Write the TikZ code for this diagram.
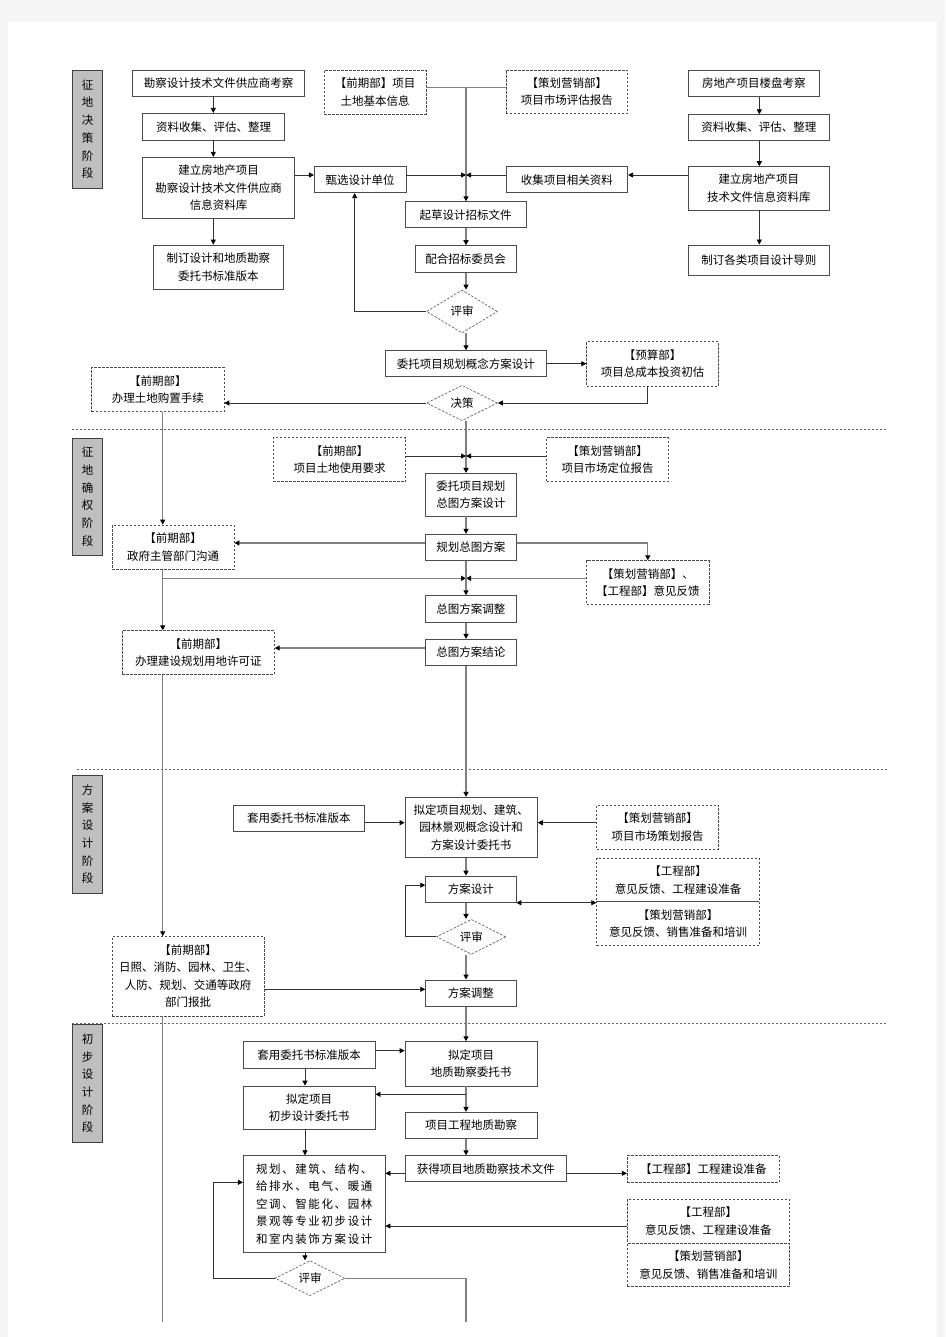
\documentclass[tikz,border=0pt]{standalone}
\usepackage{fontspec}
\setmainfont{Noto Sans CJK SC}
\newfontfamily\widefont{Noto Sans CJK SC}[LetterSpace=14]
\usepackage{tikz}
\usetikzlibrary{calc}
\usetikzlibrary{arrows.meta}
\usetikzlibrary{shapes.geometric}
\tikzset{box/.style={draw=black!70, line width=0.8pt, fill=white, inner sep=0pt, align=center, font=\fontsize{11.5}{17.5}\selectfont}}
\tikzset{dbox/.style={box, dashed, dash pattern=on 2.5pt off 1.5pt}}
\tikzset{sz/.style 2 args={minimum width=#1pt, minimum height=#2pt}}
\tikzset{phase/.style={draw=black!75, line width=0.8pt, fill=black!25, inner sep=0pt, minimum width=29.6pt, align=center, font=\fontsize{11.5}{17.7}\selectfont}}
\tikzset{choice/.style={diamond, draw=black!60, line width=0.7pt, dashed, dash pattern=on 2.5pt off 1.5pt, fill=white, inner sep=0pt, font=\fontsize{11.5}{14}\selectfont}}

\begin{document}
\begin{tikzpicture}[x=1pt, y=-1pt]
\tikzstyle{myarrow} = [-{Triangle[length=5pt, width=5pt, black]}]
\tikzstyle{gray} = [draw=black!50, line width=1.3pt]
\tikzstyle{dark} = [draw=black!80, line width=0.8pt]
\useasboundingbox (0,0) rectangle (945,1337);
\fill[black!4] (0,0) rectangle (945,1337);
\fill[white] (8,22) rectangle (937,1337);

% phase labels
\node[phase, minimum height=118.3pt] (p1) at (87.5,129.2) {征\\地\\决\\策\\阶\\段};
\node[phase, minimum height=116.7pt] (p2) at (87.5,496.7) {征\\地\\确\\权\\阶\\段};
\node[phase, minimum height=118.3pt] (p3) at (87.5,834.2) {方\\案\\设\\计\\阶\\段};
\node[phase, minimum height=118.3pt] (p4) at (87.5,1083.2) {初\\步\\设\\计\\阶\\段};

% phase dividers
\draw[black!60, dashed, dash pattern=on 2.5pt off 1.5pt] (71.7,429) -- (886.7,429);
\draw[black!60, dashed, dash pattern=on 2.5pt off 1.5pt] (76.7,769.3) -- (886.7,769.3);
\draw[black!60, dashed, dash pattern=on 2.5pt off 1.5pt] (71.7,1023.3) -- (886.7,1023.3);

% columns and junctions
\coordinate (colA) at (213.3,0);
\coordinate (colC) at (759.3,0);
\coordinate (colP) at (305,0);
\coordinate (spine) at (466,0);
\coordinate (spineL) at (162.7,0);
\coordinate (t0) at (466,87.3);
\coordinate (j1) at (466,175);
\coordinate (j2) at (466,456);
\coordinate (j3) at (466,578.3);
\coordinate (k1) at (466,543);
\coordinate (k2) at (466,648);
\coordinate (k3) at (466,822.7);
\coordinate (k5) at (466,989.3);
\coordinate (k6) at (466,1050.7);
\coordinate (k7) at (466,1094.3);
\coordinate (k8) at (466,1173.3);
\coordinate (k9) at (466,1226);
\coordinate (k10) at (466,1182.3);
\coordinate (bottom) at (466,1321.7);

% phase 1
\node[box, sz={171.6}{26}] (a1) at (218.5,83) {勘察设计技术文件供应商考察};
\node[box, sz={141.6}{26.7}] (a2) at (213.5,126.7) {资料收集、评估、整理};
\node[box, sz={151.6}{61}] (a3) at (218.5,187.8) {建立房地产项目\\勘察设计技术文件供应商\\信息资料库};
\node[box, sz={130}{44.3}] (a4) at (218.3,267.2) {制订设计和地质勘察\\委托书标准版本};
\node[box, sz={91.7}{26}] (b1) at (360.2,179.7) {甄选设计单位};
\node[dbox, sz={101.7}{44}] (d1) at (375.2,92) {【前期部】项目\\土地基本信息};
\node[dbox, sz={121.7}{43.3}] (d2) at (566.8,91.7) {【策划营销部】\\项目市场评估报告};
\node[box, sz={131}{26.7}] (c1) at (753.8,83.3) {房地产项目楼盘考察};
\node[box, sz={141}{25.5}] (c2) at (758.8,127.5) {资料收集、评估、整理};
\node[box, sz={141}{43.3}] (c3) at (758.8,188.3) {建立房地产项目\\技术文件信息资料库};
\node[box, sz={141}{30.7}] (c4) at (758.8,260.3) {制订各类项目设计导则};
\node[box, sz={121.7}{26}] (b2) at (566.8,179.7) {收集项目相关资料};
\node[box, sz={121}{26}] (m1) at (465.5,214.7) {起草设计招标文件};
\node[box, sz={100.7}{26.7}] (m2) at (465.7,259) {配合招标委员会};
\node[choice, minimum width=71pt, minimum height=43pt] (r1) at (462,311.5) {评审};
\node[box, sz={161.7}{26}] (m3) at (465.8,363.7) {委托项目规划概念方案设计};
\node[dbox, sz={131.6}{44.3}] (d3) at (652.5,363.8) {【预算部】\\项目总成本投资初估};
\node[choice, minimum width=71pt, minimum height=35.4pt] (r2) at (462,403) {决策};
\node[dbox, sz={132.3}{44.4}] (d4) at (157.8,389.5) {【前期部】\\办理土地购置手续};

% phase 2
\node[dbox, sz={132.4}{44}] (d5) at (339.5,459.7) {【前期部】\\项目土地使用要求};
\node[dbox, sz={121.6}{44}] (d6) at (607.5,459.7) {【策划营销部】\\项目市场定位报告};
\node[box, sz={91.7}{42.7}] (m4) at (470.8,494.7) {委托项目规划\\总图方案设计};
\node[dbox, sz={121.7}{44.3}] (d7) at (173.2,547.2) {【前期部】\\政府主管部门沟通};
\node[box, sz={91.7}{26.4}] (m5) at (470.8,547.5) {规划总图方案};
\node[dbox, sz={122.3}{43.6}] (d8) at (647.8,582.5) {【策划营销部】、\\【工程部】意见反馈};
\node[box, sz={91.7}{26.6}] (m6) at (470.8,609) {总图方案调整};
\node[box, sz={91.7}{26.4}] (m7) at (470.8,652.5) {总图方案结论};
\node[dbox, sz={152}{43.6}] (d9) at (198.3,652.5) {【前期部】\\办理建设规划用地许可证};

% phase 3
\node[box, sz={131}{26.7}] (s1) at (298.8,818.3) {套用委托书标准版本};
\node[box, sz={132.3}{60.4}] (m8) at (471.2,827.5) {拟定项目规划、建筑、\\园林景观概念设计和\\方案设计委托书};
\node[dbox, sz={121.6}{44.3}] (d10) at (657.5,827.2) {【策划营销部】\\项目市场策划报告};
\node[box, sz={90.3}{26.3}] (m9) at (470.8,889.2) {方案设计};
\node[dbox, sz={162.6}{43.4}] (d11a) at (678,880) {【工程部】\\意见反馈、工程建设准备};
\node[dbox, sz={162.6}{44}] (d11b) at (678,923.7) {【策划营销部】\\意见反馈、销售准备和培训};
\node[choice, minimum width=69.3pt, minimum height=35pt] (r3) at (471.3,936.8) {评审};
\node[dbox, sz={151.7}{79.3}] (d12) at (188.2,976.3) {【前期部】\\日照、消防、园林、卫生、\\人防、规划、交通等政府\\部门报批};
\node[box, sz={90.3}{26.7}] (m10) at (470.8,993.3) {方案调整};

% phase 4
\node[box, sz={131.7}{26.6}] (s2) at (309.2,1055) {套用委托书标准版本};
\node[box, sz={132.3}{44.3}] (m11) at (471.2,1063.8) {拟定项目\\地质勘察委托书};
\node[box, sz={131.7}{43}] (s3) at (309.2,1107.5) {拟定项目\\初步设计委托书};
\node[box, sz={132.3}{26}] (m12) at (471.2,1125.3) {项目工程地质勘察};
\node[box, sz={161.7}{26}] (m13) at (485.8,1168.7) {获得项目地质勘察技术文件};
\node[box, sz={141.7}{96.6}, align=left, font=\widefont\fontsize{11.5}{17.5}\selectfont] (s4) at (314.2,1204) {规划、建筑、结构、\\给排水、电气、暖通\\空调、智能化、园林\\景观等专业初步设计\\和室内装饰方案设计};
\node[dbox, sz={152}{26.6}] (d13) at (703.3,1169) {【工程部】工程建设准备};
\node[dbox, sz={162}{44}] (d14a) at (708.3,1221.3) {【工程部】\\意见反馈、工程建设准备};
\node[dbox, sz={162}{43.4}] (d14b) at (708.3,1265) {【策划营销部】\\意见反馈、销售准备和培训};
\node[choice, minimum width=70pt, minimum height=35pt] (r4) at (310,1278.2) {评审};

% connectors, phase 1
\draw[dark, myarrow] (a1.south -| colA) -- (a2.north -| colA);
\draw[dark, myarrow] (a2.south -| colA) -- (a3.north -| colA);
\draw[dark, myarrow] (a3.south -| colA) -- (a4.north -| colA);
\draw[dark, myarrow] (c1.south -| colC) -- (c2.north -| colC);
\draw[dark, myarrow] (c2.south -| colC) -- (c3.north -| colC);
\draw[dark, myarrow] (c3.south -| colC) -- (c4.north -| colC);
\draw[dark, myarrow] (a3.east |- j1) -- (b1.west |- j1);
\draw[dark, myarrow] (c3.west |- j1) -- (b2.east |- j1);
\draw[gray] (d1.east |- t0) -- (d2.west |- t0);
\draw[gray, myarrow] (t0) -- (m1.north -| spine);
\draw[dark, myarrow] (b1.east |- j1) -- (j1);
\draw[dark, myarrow] (b2.west |- j1) -- (j1);
\draw[gray, myarrow] (m1.south -| spine) -- (m2.north -| spine);
\draw[gray, myarrow] (m2.south -| spine) -- (r1.north -| spine);
\draw[gray, myarrow] (r1.south -| spine) -- (m3.north -| spine);
\draw[dark, myarrow] (r1.west) -| ([xshift=-5.5pt]b1.south);
\draw[dark, myarrow] (m3.east) -- (m3.east -| d3.west);
\draw[dark, myarrow] ([xshift=-5pt]d3.south) |- (r2.east);
\draw[dark, myarrow] (r2.west) -- (r2.west -| d4.east);

% connectors, phase 2
\draw[gray, myarrow] (r2.south -| spine) -- (m4.north -| spine);
\draw[dark, myarrow] (d5.east |- j2) -- (j2);
\draw[dark, myarrow] (d6.west |- j2) -- (j2);
\draw[gray, myarrow] (d4.south -| spineL) -- (d7.north -| spineL);
\draw[gray, myarrow] (m4.south -| spine) -- (m5.north -| spine);
\draw[gray, myarrow] (m5.west |- k1) -- (k1 -| d7.east);
\draw[gray, myarrow] (m5.east |- k1) -| (d8.north);
\draw[gray, myarrow] (d7.south -| spineL) -- (d9.north -| spineL);
\draw[gray, myarrow] (spineL |- j3) -- (j3);
\draw[gray, myarrow] (d8.west |- j3) -- (j3);
\draw[gray, myarrow] (m5.south -| spine) -- (m6.north -| spine);
\draw[gray, myarrow] (m6.south -| spine) -- (m7.north -| spine);
\draw[gray, myarrow] (m7.west |- k2) -- (k2 -| d9.east);
\draw[gray, myarrow] (m7.south -| spine) -- (m8.north -| spine);

% connectors, phase 3
\draw[gray, myarrow] (d9.south -| spineL) -- (d12.north -| spineL);
\draw[dark, myarrow] (s1.east |- k3) -- (k3 -| m8.west);
\draw[dark, myarrow] (d10.west |- k3) -- (k3 -| m8.east);
\draw[gray, myarrow] (m8.south -| spine) -- (m9.north -| spine);
\draw[dark, {Triangle[length=5pt, width=5pt, black]}-{Triangle[length=5pt, width=5pt, black]}] (m9.south east) -- (m9.south east -| d11a.west);
\draw[gray, myarrow] (m9.south -| spine) -- (r3.north -| spine);
\draw[dark, myarrow] (r3.west) -| ([xshift=-20pt, yshift=4pt]m9.west) -- ([yshift=4pt]m9.west);
\draw[gray, myarrow] (r3.south -| spine) -- (m10.north -| spine);
\draw[dark, myarrow] (d12.east |- k5) -- (k5 -| m10.west);
\draw[gray, myarrow] (m10.south -| spine) -- (m11.north -| spine);
\draw[gray] (d12.south -| spineL) -- (spineL |- bottom);

% connectors, phase 4
\draw[dark, myarrow] (s2.east |- k6) -- (k6 -| m11.west);
\draw[dark, myarrow] (s2.south -| colP) -- (s3.north -| colP);
\draw[gray, myarrow] (m11.south -| spine) -- (m12.north -| spine);
\draw[dark, myarrow] (k7) -- (k7 -| s3.east);
\draw[gray, myarrow] (m12.south -| spine) -- (m13.north -| spine);
\draw[dark, myarrow] (s3.south -| colP) -- (s4.north -| colP);
\draw[dark, myarrow] (m13.west |- k8) -- (k8 -| s4.east);
\draw[dark, myarrow] (m13.east |- k8) -- (k8 -| d13.west);
\draw[dark, myarrow] (d14a.west |- k9) -- (k9 -| s4.east);
\draw[dark, myarrow] (s4.south -| colP) -- (r4.north -| colP);
\draw[dark, myarrow] (r4.west) -| (colA |- k10) -- (k10 -| s4.west);
\draw[gray] (r4.east) -| (bottom);
\end{tikzpicture}
\end{document}
